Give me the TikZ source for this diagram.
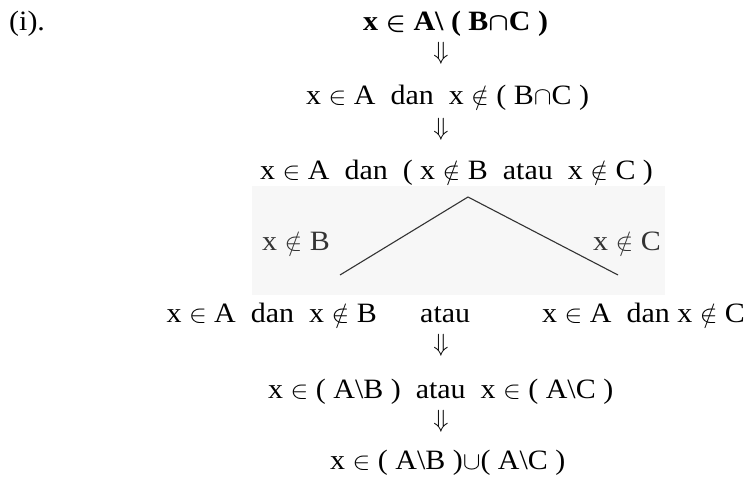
\documentclass[tikz,border=0pt]{standalone}
\usepackage{fontspec}
\setmainfont{Liberation Serif}
\begin{document}
\begin{tikzpicture}[x=1pt,y=-1pt,
  txt/.style={inner sep=0pt, anchor=base west, transform shape, xscale=1.07, font=\fontsize{28}{33}\selectfont},
  arr/.style={inner sep=0pt, font=\fontsize{32}{36}\selectfont},
  branch/.style={line width=1.1pt, black!80}]
\useasboundingbox (0,0) rectangle (756,478);
\fill[black!3] (252,186) rectangle (665,295);
\node[txt] (lab) at (9,31) {(i).};
\node[txt, font=\fontsize{28}{33}\selectfont\bfseries\boldmath] (l1) at (363,31) {x $\in$ A\textbackslash\ ( B$\cap$C )};
\node[arr] (a1) at (441,53) {$\Downarrow$};
\node[txt] (l2) at (306,105) {x $\in$ A\ \ dan\ \ x $\notin$ ( B$\cap$C )};
\node[arr] (a2) at (441,129) {$\Downarrow$};
\node[txt] (l3) at (260,180) {x $\in$ A\ \ dan\ \ ( x $\notin$ B\ \ atau\ \ x $\notin$ C )};
\coordinate (peak) at (468,197);
\coordinate (lend) at (340,275);
\coordinate (rend) at (618,275);
\draw[branch] (lend) -- (peak) -- (rend);
\node[txt, black!80] (nb) at (262,251) {x $\notin$ B};
\node[txt, black!80] (nc) at (593,251) {x $\notin$ C};
\node[txt, anchor=base east] (l4a) at (377,323) {x $\in$ A\ \ dan\ \ x $\notin$ B};
\node[txt] (l4b) at (420,323) {atau};
\node[txt] (l4c) at (542,323) {x $\in$ A\ \ dan x $\notin$ C};
\node[arr] (a3) at (441,345) {$\Downarrow$};
\node[txt] (l5) at (268,399) {x $\in$ ( A\textbackslash B )\ \ atau\ \ x $\in$ ( A\textbackslash C )};
\node[arr] (a4) at (441,421) {$\Downarrow$};
\node[txt] (l6) at (330,470) {x $\in$ ( A\textbackslash B )$\cup$( A\textbackslash C )};
\end{tikzpicture}
\end{document}
